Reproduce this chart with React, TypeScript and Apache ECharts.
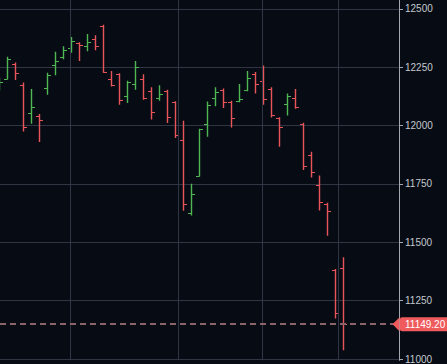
import React, { useEffect, useRef } from "react";
import * as echarts from "echarts";

// Bar index (0 is the partially visible bar at the left edge)
const barIndex = [
  0, 1, 2, 3, 4, 5, 6, 7, 8, 9, 10, 11, 12, 13, 14, 15, 16, 17, 18, 19, 20, 21,
  22, 23, 24, 25, 26, 27, 28, 29, 30, 31, 32, 33, 34, 35, 36, 37, 38, 39, 40,
  41, 42, 43,
];
const opens = [
  12170, 12199, 12264, 12175, 12055, 12042, 12160, 12258, 12295, 12333, 12353,
  12340, 12370, 12428, 12199, 12220, 12126, 12178, 12199, 12149, 12118, 12147,
  12100, 11937, 11626, 11786, 12008, 12118, 12153, 12103, 12106, 12153, 12220,
  12192, 12159, 12032, 12093, 12118, 12008, 11874, 11744, 11662, 11382, 11390,
];
const highs = [
  12205, 12295, 12270, 12185, 12157, 12050, 12227, 12316, 12340, 12380, 12357,
  12393, 12387, 12432, 12234, 12224, 12192, 12277, 12220, 12164, 12173, 12154,
  12104, 12021, 11751, 11987, 12103, 12164, 12159, 12107, 12178, 12234, 12230,
  12258, 12164, 12036, 12138, 12157, 12012, 11888, 11786, 11669, 11386, 11436,
];
const lows = [
  12150, 12199, 12195, 11975, 12008, 11930, 12132, 12216, 12284, 12312, 12277,
  12319, 12323, 12227, 12168, 12089, 12097, 12154, 12111, 12026, 12106, 12011,
  11947, 11635, 11615, 11782, 11952, 12083, 12075, 11992, 12100, 12147, 12138,
  12089, 12035, 11909, 12043, 12072, 11810, 11778, 11636, 11528, 11174, 11037,
];
const closes = [
  12185, 12284, 12227, 11992, 12080, 12022, 12216, 12275, 12326, 12361, 12344,
  12360, 12340, 12230, 12173, 12111, 12185, 12249, 12118, 12060, 12135, 12036,
  11958, 11665, 11707, 11984, 12089, 12144, 12100, 12034, 12112, 12202, 12178,
  12114, 12045, 11994, 12126, 12079, 11829, 11803, 11673, 11634, 11198, 11149.2,
];
// Vertical grid lines (period boundaries), in bar-index units
const periodLines = [9, 22.5, 33, 42.5];
// Price axis tick labels
const priceTicks = [11000, 11250, 11500, 11750, 12000, 12250, 12500];

const BG = "#070c14";
const GRID = "#2f3542";
const UP = "#4fb653";
const DOWN = "#e8545a";
const TAG = "#ef5a5c";
const AXIS = "#a3a7b0";
const TEXT = "#c4c8cf";
const FONT = "'Liberation Sans', Arial, sans-serif";

export default function App() {
  const ref = useRef<HTMLDivElement>(null);
  useEffect(() => {
    if (!ref.current) return;
    const chart = echarts.init(ref.current, undefined, { renderer: "svg" });
    const data = barIndex.map((i, k) => [i, opens[k], highs[k], lows[k], closes[k]]);
    const last = closes[closes.length - 1];
    const xMax = 50.04;
    chart.setOption({
      animation: false,
      backgroundColor: BG,
      grid: { left: 0, right: 48, top: 0, bottom: 0 },
      xAxis: {
        type: "value",
        min: 0.16,
        max: xMax,
        show: false,
        splitLine: { show: false },
      },
      yAxis: {
        type: "value",
        position: "right",
        min: 10994.5,
        max: 12538.2,
        axisLine: { show: true, lineStyle: { color: AXIS, width: 1 } },
        axisTick: {
          show: true,
          length: 4,
          customValues: priceTicks,
          lineStyle: { color: AXIS },
        },
        axisLabel: {
          customValues: priceTicks,
          color: TEXT,
          fontSize: 10,
          fontFamily: FONT,
          margin: 6,
          formatter: (v: number) => String(v),
        },
        splitLine: { show: true, lineStyle: { color: GRID, width: 1 } },
      },
      series: [
        {
          type: "custom",
          clip: true,
          data,
          encode: { x: 0, y: [1, 2, 3, 4] },
          renderItem: (params: any, api: any) => {
            const x = api.value(0);
            const o = api.value(1);
            const h = api.value(2);
            const l = api.value(3);
            const c = api.value(4);
            const pH = api.coord([x, h]);
            const pL = api.coord([x, l]);
            const pO = api.coord([x, o]);
            const pC = api.coord([x, c]);
            const color = c >= o ? UP : DOWN;
            const cx = Math.round(pH[0]) + 0.5;
            const w = 3.5;
            const yo = Math.round(pO[1]) + 0.5;
            const yc = Math.round(pC[1]) + 0.5;
            const st = { stroke: color, fill: null, lineWidth: 1.4, opacity: 1 };
            const tk = { stroke: color, fill: null, lineWidth: 1.2, opacity: 1 };
            return {
              type: "group",
              children: [
                { type: "line", shape: { x1: cx, y1: pH[1], x2: cx, y2: pL[1] }, style: st },
                { type: "line", shape: { x1: cx - w, y1: yo, x2: cx, y2: yo }, style: tk },
                { type: "line", shape: { x1: cx, y1: yc, x2: cx + w, y2: yc }, style: tk },
              ],
            };
          },
          markLine: {
            silent: true,
            symbol: "none",
            animation: false,
            data: [
              ...periodLines.map((p) => ({
                xAxis: p,
                lineStyle: { color: GRID, type: "solid", width: 1 },
                label: { show: false },
              })),
              {
                yAxis: last,
                lineStyle: { color: "#8a6468", type: [6, 4], width: 2 },
                label: {
                  show: true,
                  position: "end",
                  distance: 1,
                  formatter: () => last.toFixed(2),
                  color: "#ffffff",
                  fontSize: 10,
                  fontFamily: FONT,
                  backgroundColor: TAG,
                  padding: [2, 6, 2, 5],
                  borderRadius: 2,
                  lineHeight: 10,
                },
              },
            ],
          },
          markPoint: {
            silent: true,
            animation: false,
            data: [
              {
                coord: [xMax, last],
                symbol: "triangle",
                symbolSize: [14, 7],
                symbolRotate: 90,
                symbolOffset: [-3, 0],
                itemStyle: { color: TAG },
                label: { show: false },
              },
            ],
          },
        },
      ],
    });
    return () => chart.dispose();
  }, []);
  return (
    <div
      ref={ref}
      style={{ position: "fixed", left: 0, top: 0, width: 447, height: 364 }}
    />
  );
}
